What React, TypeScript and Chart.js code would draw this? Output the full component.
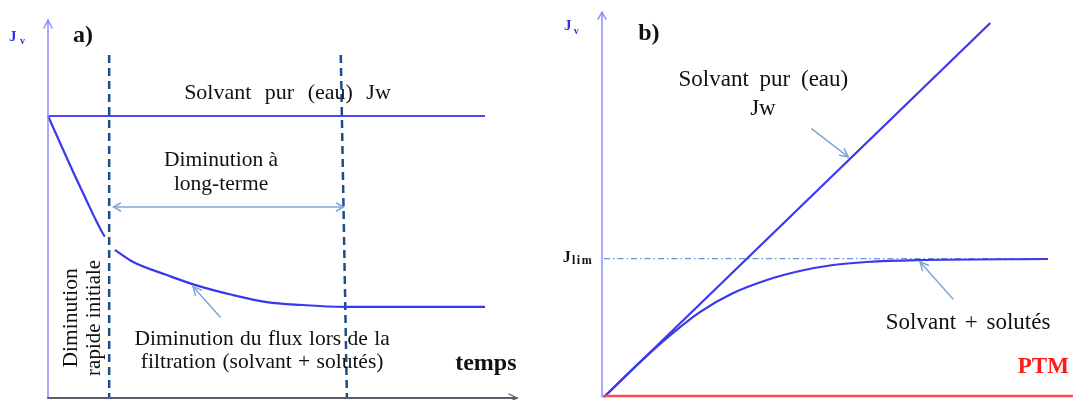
import React, { useEffect, useRef } from "react";
import { Chart, registerables } from "chart.js";

Chart.register(...registerables);

// ---------- Panel a) : flux vs time ----------
const timeJw = [0, 100];
const fluxJw = [100, 100];
const timeFast = [0, 3, 6, 9, 11, 12.2, 13];
const fluxFast = [100, 89.6, 79.3, 69.4, 62.9, 59.3, 57.2];
const timeSlow = [15.3, 19.5, 27.2, 33.6, 42.3, 50.1, 57.7, 68.0, 100];
const fluxSlow = [52.5, 48.2, 43.6, 40.1, 36.5, 34.0, 33.0, 32.3, 32.3];
const boundary1Time = [14, 14];
const boundary2Time = [67, 68.4];
const boundaryFlux = [121.6, 0];
const longTermTime = [15, 67.6];
const longTermFlux = [67.7, 67.7];

// ---------- Panel b) : flux vs PTM ----------
const ptmWater = [0, 87];
const fluxWater = [0, 100];
const ptmSolutes = [0, 8, 14, 21.6, 29.1, 36.7, 44.1, 51.6, 59.2, 70.5, 100];
const fluxSolutes = [0, 9.2, 15.6, 22.7, 27.8, 31.3, 33.7, 35.3, 36.1, 36.6, 36.9];
const ptmLim = [0, 100];
const fluxLim = [37, 37];

const zip = (xs: number[], ys: number[]) => xs.map((x, i) => ({ x, y: ys[i] }));

const BLUE = "#3838ee";
const AXIS_BLUE = "#8c8cff";
const ARROW_BLUE = "#7fa6d6";
const NAVY = "#1f4f8a";
const SERIF = "'Liberation Serif', 'Times New Roman', serif";

function chevron(ctx: CanvasRenderingContext2D, x1: number, y1: number, x2: number, y2: number, len: number, half: number) {
  const a = Math.atan2(y2 - y1, x2 - x1);
  const c = Math.cos(a), s = Math.sin(a);
  ctx.beginPath();
  ctx.moveTo(x2 - len * c + half * s, y2 - len * s - half * c);
  ctx.lineTo(x2, y2);
  ctx.lineTo(x2 - len * c - half * s, y2 - len * s + half * c);
  ctx.stroke();
}

function seg(ctx: CanvasRenderingContext2D, x1: number, y1: number, x2: number, y2: number) {
  ctx.beginPath();
  ctx.moveTo(x1, y1);
  ctx.lineTo(x2, y2);
  ctx.stroke();
}

function txt(
  ctx: CanvasRenderingContext2D,
  s: string,
  x: number,
  y: number,
  font: string,
  color: string,
  align: CanvasTextAlign = "center",
  wordSpacing = 0,
  rotate = 0,
  letterSpacing = 0
) {
  ctx.save();
  ctx.font = font;
  ctx.fillStyle = color;
  ctx.textAlign = align;
  ctx.textBaseline = "alphabetic";
  (ctx as any).wordSpacing = wordSpacing + "px";
  (ctx as any).letterSpacing = letterSpacing + "px";
  ctx.translate(x, y);
  if (rotate) ctx.rotate(rotate);
  ctx.fillText(s, 0, 0);
  ctx.restore();
}

const panelAPlugin = {
  id: "panelA",
  afterDatasetsDraw(chart: any) {
    const { ctx } = chart;
    const X = (v: number) => chart.scales.x.getPixelForValue(v);
    const Y = (v: number) => chart.scales.y.getPixelForValue(v);
    ctx.save();
    ctx.lineCap = "round";
    // y axis
    ctx.strokeStyle = AXIS_BLUE;
    ctx.lineWidth = 1.5;
    seg(ctx, X(0), Y(0), X(0), Y(134));
    chevron(ctx, X(0), Y(0), X(0), Y(134), 8, 4);
    // x axis
    ctx.strokeStyle = "#5c5c6c";
    ctx.lineWidth = 2;
    seg(ctx, X(0), Y(0), X(107.3), Y(0));
    ctx.lineWidth = 1.3;
    chevron(ctx, X(0), Y(0), X(107.3), Y(0), 8, 4);
    // long-term double arrow heads
    ctx.strokeStyle = ARROW_BLUE;
    ctx.lineWidth = 1.5;
    chevron(ctx, X(longTermTime[1]), Y(longTermFlux[1]), X(longTermTime[0]), Y(longTermFlux[0]), 7, 4);
    chevron(ctx, X(longTermTime[0]), Y(longTermFlux[0]), X(longTermTime[1]), Y(longTermFlux[1]), 7, 4);
    // pointer arrow to fouling curve
    seg(ctx, X(39.4), Y(28.7), X(33.2), Y(39.4));
    chevron(ctx, X(39.4), Y(28.7), X(33.2), Y(39.4), 8, 4);
    ctx.restore();

    const f22 = `22px ${SERIF}`;
    const f21 = `21.5px ${SERIF}`;
    txt(ctx, "J", X(-8.9), Y(126.6), `bold 15px ${SERIF}`, "#2f2fe6", "left");
    txt(ctx, "v", X(-6.4), Y(125.5), `bold 10px ${SERIF}`, "#2f2fe6", "left");
    txt(ctx, "a)", X(5.7), Y(126.2), `bold 24px ${SERIF}`, "#111", "left");
    txt(ctx, "Solvant pur (eau) Jw", X(54.8), Y(106), f22, "#111", "center", 8);
    txt(ctx, "Diminution à", X(39.6), Y(82.3), f21, "#111");
    txt(ctx, "long-terme", X(39.6), Y(73.8), f21, "#111");
    txt(ctx, "Diminution du flux lors de la", X(49), Y(18.8), f21, "#111", "center", 1);
    txt(ctx, "filtration (solvant + solutés)", X(49), Y(10.6), f21, "#111", "center", 1);
    txt(ctx, "temps", X(100.2), Y(9.9), `bold 24px ${SERIF}`, "#111");
    txt(ctx, "Diminution", X(6.6), Y(28.4), `21.5px ${SERIF}`, "#111", "center", 0, -Math.PI / 2);
    txt(ctx, "rapide initiale", X(11.9), Y(28.4), `21px ${SERIF}`, "#111", "center", 0, -Math.PI / 2);
  },
};

const panelBPlugin = {
  id: "panelB",
  afterDatasetsDraw(chart: any) {
    const { ctx, width } = chart;
    const X = (v: number) => chart.scales.x.getPixelForValue(v);
    const Y = (v: number) => chart.scales.y.getPixelForValue(v);
    ctx.save();
    ctx.lineCap = "round";
    // y axis
    ctx.strokeStyle = AXIS_BLUE;
    ctx.lineWidth = 1.5;
    seg(ctx, X(0) - 2, Y(0), X(0) - 2, Y(102.9));
    chevron(ctx, X(0) - 2, Y(0), X(0) - 2, Y(102.9), 7, 4);
    // x axis (red)
    ctx.strokeStyle = "#ff4d4d";
    ctx.lineWidth = 2.5;
    ctx.lineCap = "butt";
    seg(ctx, X(0) - 1, Y(0) - 1, width, Y(0) - 1);
    // pointer arrows
    ctx.lineCap = "round";
    ctx.strokeStyle = ARROW_BLUE;
    ctx.lineWidth = 1.5;
    seg(ctx, X(46.8), Y(71.7), X(55), Y(64.2));
    chevron(ctx, X(46.8), Y(71.7), X(55), Y(64.2), 8, 4);
    seg(ctx, X(78.6), Y(26.2), X(71.2), Y(36.1));
    chevron(ctx, X(78.6), Y(26.2), X(71.2), Y(36.1), 8, 4);
    ctx.restore();

    txt(ctx, "J", X(-9.0), Y(98.1), `bold 15px ${SERIF}`, "#2f2fe6", "left");
    txt(ctx, "v", X(-6.8), Y(97.1), `bold 10px ${SERIF}`, "#2f2fe6", "left");
    txt(ctx, "b)", X(7.7), Y(95.5), `bold 24px ${SERIF}`, "#111", "left");
    txt(ctx, "J", X(-9.3), Y(36.1), `bold 16px ${SERIF}`, "#111", "left");
    txt(ctx, "lim", X(-7.2), Y(35.5), `bold 12px ${SERIF}`, "#111", "left", 0, 0, 1.5);
    txt(ctx, "Solvant pur (eau)", X(35.9), Y(83.2), `23px ${SERIF}`, "#111", "center", 5);
    txt(ctx, "Jw", X(35.8), Y(75.4), `23px ${SERIF}`, "#111");
    txt(ctx, "Solvant + solutés", X(82), Y(18.2), `23px ${SERIF}`, "#111", "center", 3);
    txt(ctx, "PTM", X(93.2), Y(6.4), `bold 23px ${SERIF}`, "#ff1a1a", "left");
  },
};

function baseOptions(padding: any, xMax: number, yMax: number) {
  return {
    animation: false as const,
    responsive: false,
    layout: { padding },
    scales: {
      x: { type: "linear" as const, min: 0, max: xMax, display: false },
      y: { type: "linear" as const, min: 0, max: yMax, display: false },
    },
    plugins: { legend: { display: false }, tooltip: { enabled: false } },
    elements: { point: { radius: 0 } },
  };
}

export default function App() {
  const refA = useRef<HTMLCanvasElement>(null);
  const refB = useRef<HTMLCanvasElement>(null);

  useEffect(() => {
    const line = (data: any[], color: string, width: number, extra: any = {}) => ({
      data,
      borderColor: color,
      borderWidth: width,
      pointRadius: 0,
      fill: false,
      clip: false,
      ...extra,
    });

    const chartA = new Chart(refA.current as HTMLCanvasElement, {
      type: "line",
      data: {
        datasets: [
          line(zip(timeJw, fluxJw), "#4a4af0", 2),
          line(zip(timeFast, fluxFast), BLUE, 2.2, { cubicInterpolationMode: "monotone" }),
          line(zip(timeSlow, fluxSlow), BLUE, 2.2, { cubicInterpolationMode: "monotone" }),
          line(zip(boundary1Time, boundaryFlux), NAVY, 2.5, { borderDash: [8, 5] }),
          line(zip(boundary2Time, boundaryFlux), NAVY, 2.5, { borderDash: [8, 5] }),
          line(zip(longTermTime, longTermFlux), ARROW_BLUE, 1.5),
        ],
      },
      options: baseOptions({ left: 48, right: 55, top: 20, bottom: 2 }, 100, 134) as any,
      plugins: [panelAPlugin],
    });

    const chartB = new Chart(refB.current as HTMLCanvasElement, {
      type: "line",
      data: {
        datasets: [
          line(zip(ptmWater, fluxWater), BLUE, 2.2),
          line(zip(ptmSolutes, fluxSolutes), BLUE, 2.2, { cubicInterpolationMode: "monotone" }),
          line(zip(ptmLim, fluxLim), "#6b93d6", 1.2, { borderDash: [6, 3, 1.5, 3] }),
        ],
      },
      options: baseOptions({ left: 64, right: 25, top: 23, bottom: 3 }, 100, 100) as any,
      plugins: [panelBPlugin],
    });

    return () => {
      chartA.destroy();
      chartB.destroy();
    };
  }, []);

  return (
    <div style={{ position: "absolute", left: 0, top: 0, width: 1073, height: 400, background: "#fff" }}>
      <canvas ref={refA} width={540} height={400} style={{ position: "absolute", left: 0, top: 0, width: 540, height: 400 }} />
      <canvas ref={refB} width={533} height={400} style={{ position: "absolute", left: 540, top: 0, width: 533, height: 400 }} />
    </div>
  );
}
